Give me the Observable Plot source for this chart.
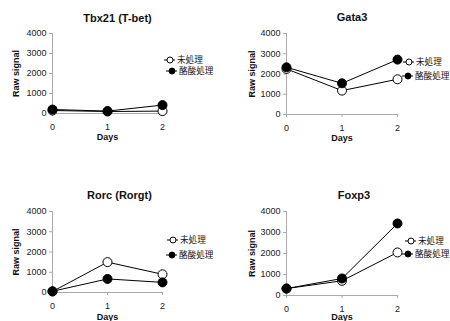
<!DOCTYPE html>
<html><head><meta charset="utf-8">
<script src="https://cdn.jsdelivr.net/npm/d3@7"></script>
<script src="https://cdn.jsdelivr.net/npm/@observablehq/plot@0.6"></script>
<style>
body{margin:0;background:#fff;}
#root{position:relative;width:450px;height:321px;overflow:hidden;background:#fff;font-family:"Liberation Sans",Arial,"Noto Sans CJK JP",sans-serif;}
.panel{position:absolute;}
.panel svg{overflow:visible;}
</style></head><body><div id="root"></div>
<script>
const days = [0, 1, 2];
const genes = ["Tbx21 (T-bet)", "Gata3", "Rorc (Rorgt)", "Foxp3"];
const seriesNames = ["未処理", "酪酸処理"];
const untreated = [[150, 100, 120], [2250, 1180, 1740], [50, 1500, 900], [330, 700, 2050]];
const butyrate  = [[200, 120, 420], [2330, 1540, 2710], [60, 670, 500], [330, 810, 3430]];
const yTicks = [0, 1000, 2000, 3000, 4000];
const xTicks = [0, 1, 2];

const layout = [
  {left: 0,   top: 0,   w: 225, h: 160, ml: 52, mr: 63, mt: 33, mb: 47, titleY: 18, titleDx: 10, daysDy: 24, rawDx: -36, lx: [170, 172], ly: [60, 71]},
  {left: 225, top: 0,   w: 225, h: 160, ml: 61, mr: 53, mt: 33, mb: 46, titleY: 17, titleDx: 10, daysDy: 24, rawDx: -34, lx: [184, 183], ly: [62, 76]},
  {left: 0,   top: 160, w: 225, h: 161, ml: 52, mr: 63, mt: 51, mb: 29, titleY: 35, titleDx: 12, daysDy: 25, rawDx: -36, lx: [173, 172], ly: [80, 95]},
  {left: 225, top: 160, w: 225, h: 161, ml: 61, mr: 53, mt: 51, mb: 26, titleY: 35, titleDx: 12, daysDy: 22, rawDx: -34, lx: [186, 183], ly: [81, 94]}
];

const root = document.getElementById("root");
const font = '"Liberation Sans", Arial, "Noto Sans CJK JP", sans-serif';

genes.forEach((gene, i) => {
  const L = layout[i];
  const data = [];
  days.forEach((d, j) => data.push({day: d, value: untreated[i][j], series: seriesNames[0]}));
  days.forEach((d, j) => data.push({day: d, value: butyrate[i][j], series: seriesNames[1]}));
  const open = data.filter(d => d.series === seriesNames[0]);
  const filled = data.filter(d => d.series === seriesNames[1]);

  const svg = Plot.plot({
    width: L.w, height: L.h,
    marginLeft: L.ml, marginRight: L.mr, marginTop: L.mt, marginBottom: L.mb,
    style: {fontFamily: font, fontSize: "9px", color: "#222", background: "transparent", overflow: "visible"},
    x: {domain: [0, 2], axis: null},
    y: {domain: [0, 4000], axis: null},
    marks: [
      Plot.ruleX([0], {stroke: "#aaa"}),
      Plot.ruleY([0], {stroke: "#aaa"}),
      Plot.axisY(yTicks, {tickSize: 3, tickPadding: 3, label: null, fontSize: 9, tickFormat: d => String(d)}),
      Plot.axisX(xTicks, {tickSize: 3, tickPadding: 7, label: null, fontSize: 9, tickFormat: d => String(d)}),
      Plot.line(open, {x: "day", y: "value", stroke: "black", strokeWidth: 1}),
      Plot.line(filled, {x: "day", y: "value", stroke: "black", strokeWidth: 1}),
      Plot.dot(open, {x: "day", y: "value", r: 4.5, fill: "white", stroke: "black", strokeWidth: 1}),
      Plot.dot(filled, {x: "day", y: "value", r: 4.5, fill: "black", stroke: "black", strokeWidth: 1}),
      Plot.text([gene], {frameAnchor: "top", dy: L.titleY - L.mt, dx: L.titleDx, lineAnchor: "middle", fontWeight: "bold", fontSize: 11, fill: "#111"}),
      Plot.text(["Days"], {frameAnchor: "bottom", dy: L.daysDy, lineAnchor: "middle", fontWeight: "bold", fontSize: 9, fill: "#111"}),
      Plot.text(["Raw signal"], {frameAnchor: "left", dx: L.rawDx, rotate: -90, lineAnchor: "middle", textAnchor: "middle", fontWeight: "bold", fontSize: 9, fill: "#111"})
    ]
  });
  d3.select(svg).selectAll('g[aria-label="y-axis tick"], g[aria-label="x-axis tick"]').attr("stroke", "#aaa");

  // legend
  const g = d3.select(svg).append("g").attr("font-family", font).attr("font-size", 8.6).attr("text-anchor", "start");
  seriesNames.forEach((name, k) => {
    const cx = L.lx[k], cy = L.ly[k];
    g.append("line").attr("x1", cx - 6).attr("x2", cx + 5).attr("y1", cy).attr("y2", cy).attr("stroke", "black");
    g.append("circle").attr("cx", cx).attr("cy", cy).attr("r", 3).attr("fill", k === 0 ? "white" : "black").attr("stroke", "black");
    g.append("text").attr("x", cx + 7).attr("y", cy).attr("dy", "0.35em").attr("fill", "#111").attr("text-anchor", "start").text(name);
  });

  const div = document.createElement("div");
  div.className = "panel";
  div.style.left = L.left + "px";
  div.style.top = L.top + "px";
  div.appendChild(svg);
  root.appendChild(div);
});
</script>
</body></html>
